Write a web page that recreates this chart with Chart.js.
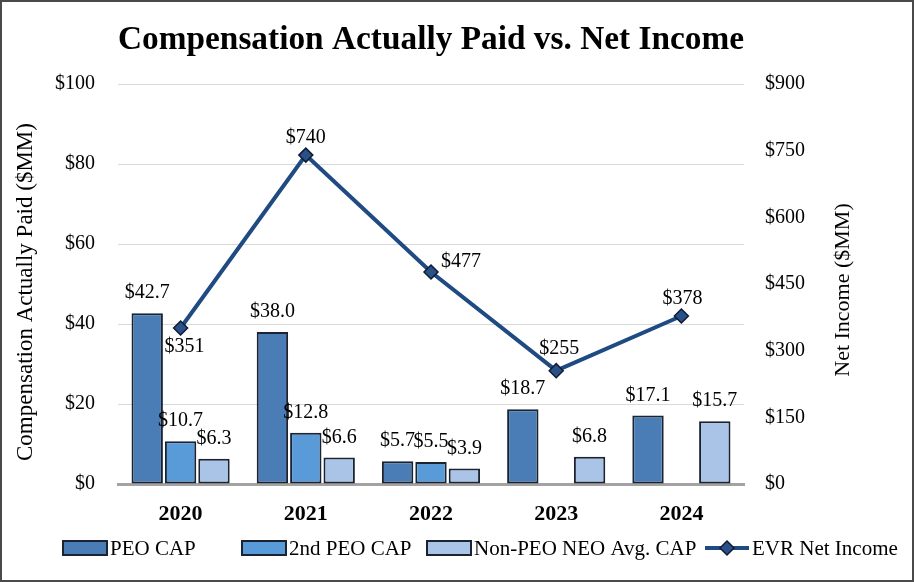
<!DOCTYPE html>
<html><head><meta charset="utf-8">
<script src="https://cdn.jsdelivr.net/npm/chart.js@4.4.1/dist/chart.umd.min.js"></script>
<style>
html,body{margin:0;padding:0;background:#fff;}
#wrap{position:relative;width:914px;height:582px;}
#wrap::after{content:'';position:absolute;left:0;top:0;right:0;bottom:0;border:2px solid #4a4a4a;pointer-events:none;}
canvas{display:block;}
</style></head><body>
<div id="wrap"><canvas id="c" width="914" height="582"></canvas></div>
<script>
const categories = ['2020', '2021', '2022', '2023', '2024'];
const peoCap = [42.7, 38.0, 5.7, 18.7, 17.1];
const secondPeoCap = [10.7, 12.8, 5.5, null, null];
const nonPeoCap = [6.3, 6.6, 3.9, 6.8, 15.7];
const netIncome = [351, 740, 477, 255, 378];
const leftTicks = [0, 20, 40, 60, 80, 100];
const rightTicks = [0, 150, 300, 450, 600, 750, 900];

const FF = "'Liberation Serif', 'Times New Roman', Times, serif";
const BAR_BORDER = '#1b2230';
const LINE_COLOR = '#1f4a82';

const dataLabelPlugin = {
  id: 'dataLabels',
  afterDatasetsDraw(chart, args, opts) {
    const ctx = chart.ctx;
    ctx.save();
    ctx.font = '20px ' + FF;
    ctx.fillStyle = '#000';
    ctx.textAlign = 'center';
    ctx.textBaseline = 'middle';
    chart.data.datasets.forEach((ds, di) => {
      const meta = chart.getDatasetMeta(di);
      meta.data.forEach((el, i) => {
        const v = ds.data[i];
        if (v === null || v === undefined) return;
        if (ds.type === 'line') {
          const off = opts.lineOffsets[i];
          ctx.fillText('$' + Math.round(v), el.x + off[0], el.y + off[1]);
        } else {
          ctx.fillText('$' + v.toFixed(1), el.x, el.y - opts.barGap);
        }
      });
    });
    ctx.restore();
  }
};

const axisTitlePlugin = {
  id: 'axisTitles',
  afterDraw(chart, args, opts) {
    const ctx = chart.ctx;
    ctx.save();
    ctx.fillStyle = '#000';
    ctx.textAlign = 'center';
    ctx.textBaseline = 'middle';
    opts.titles.forEach(t => {
      ctx.save();
      ctx.font = t.size + 'px ' + FF;
      ctx.translate(t.x, t.y);
      ctx.rotate(-Math.PI / 2);
      ctx.fillText(chart.options.scales[t.axis].title.text, 0, 0);
      ctx.restore();
    });
    ctx.restore();
  }
};

const legendPlugin = {
  id: 'customLegend',
  afterDraw(chart, args, opts) {
    const ctx = chart.ctx;
    ctx.save();
    ctx.font = '21px ' + FF;
    ctx.textBaseline = 'middle';
    ctx.textAlign = 'left';
    const cy = opts.y;
    chart.data.datasets.forEach((ds, i) => {
      const x = opts.xs[i];
      const w = opts.boxW;
      if (ds.type === 'line') {
        ctx.strokeStyle = ds.borderColor;
        ctx.lineWidth = 4;
        ctx.beginPath();
        ctx.moveTo(x, cy);
        ctx.lineTo(x + w, cy);
        ctx.stroke();
        const r = 7;
        const mx = x + w / 2;
        ctx.beginPath();
        ctx.moveTo(mx, cy - r);
        ctx.lineTo(mx + r, cy);
        ctx.lineTo(mx, cy + r);
        ctx.lineTo(mx - r, cy);
        ctx.closePath();
        ctx.fillStyle = ds.pointBackgroundColor;
        ctx.fill();
        ctx.strokeStyle = ds.pointBorderColor;
        ctx.lineWidth = 1.5;
        ctx.stroke();
      } else {
        ctx.fillStyle = ds.backgroundColor;
        ctx.fillRect(x, cy - opts.boxH / 2, w, opts.boxH);
        ctx.strokeStyle = ds.borderColor;
        ctx.lineWidth = 2;
        ctx.strokeRect(x, cy - opts.boxH / 2, w, opts.boxH);
      }
      ctx.fillStyle = '#000';
      ctx.fillText(ds.label, x + w + 3, cy + 1);
    });
    ctx.restore();
  }
};

const barCommon = {
  type: 'bar',
  yAxisID: 'y',
  borderColor: BAR_BORDER,
  borderWidth: 2,
  borderSkipped: false,
  categoryPercentage: 0.8,
  barPercentage: 0.94,
  order: 1
};

new Chart(document.getElementById('c'), {
  data: {
    labels: categories,
    datasets: [
      Object.assign({}, barCommon, { label: 'PEO CAP', data: peoCap, backgroundColor: '#4a7db6' }),
      Object.assign({}, barCommon, { label: '2nd PEO CAP', data: secondPeoCap, backgroundColor: '#599bd8' }),
      Object.assign({}, barCommon, { label: 'Non-PEO NEO Avg. CAP', data: nonPeoCap, backgroundColor: '#a9c4e7' }),
      {
        type: 'line', label: 'EVR Net Income', data: netIncome, yAxisID: 'y1',
        borderColor: LINE_COLOR, borderWidth: 4, tension: 0,
        pointStyle: 'rectRot', pointRadius: 7, pointHoverRadius: 7,
        pointBackgroundColor: '#2a5089', pointBorderColor: '#0f1b33', pointBorderWidth: 1.5,
        order: 0
      }
    ]
  },
  options: {
    responsive: false,
    animation: false,
    layout: { padding: 0 },
    plugins: {
      legend: { display: false },
      tooltip: { enabled: false },
      title: {
        display: true,
        text: 'Compensation Actually Paid vs. Net Income',
        fullSize: false,
        color: '#000',
        font: { family: FF, size: 34, weight: 'bold' },
        padding: { top: 20, bottom: 23.2 }
      },
      dataLabels: { barGap: 20, lineOffsets: [[4, 19], [0, -17], [30, -10], [3, -22], [1, -17]] },
      axisTitles: { titles: [{ axis: 'y', x: 26, y: 292, size: 23 }, { axis: 'y1', x: 843, y: 290, size: 22 }] },
      customLegend: { xs: [63, 242, 427, 705], y: 548, boxW: 44, boxH: 14 }
    },
    scales: {
      x: {
        type: 'category',
        offset: true,
        grid: { display: false, drawTicks: false },
        border: { display: true, color: '#a3a3a3', width: 3 },
        ticks: { color: '#000', padding: 17, font: { family: FF, size: 22, weight: 'bold' } },
        afterFit(scale) { scale.height = 98; }
      },
      y: {
        position: 'left',
        min: 0, max: 100,
        afterBuildTicks(scale) { scale.ticks = leftTicks.map(v => ({ value: v })); },
        grid: { color: '#d9d9d9', lineWidth: 1, drawTicks: false },
        border: { display: false },
        title: { display: false, text: 'Compensation Actually Paid ($MM)' },
        ticks: { color: '#000', padding: 23, font: { family: FF, size: 20 }, callback: v => '$' + v },
        afterFit(scale) { scale.width = 118; }
      },
      y1: {
        position: 'right',
        min: 0, max: 900,
        afterBuildTicks(scale) { scale.ticks = rightTicks.map(v => ({ value: v })); },
        grid: { display: false, drawTicks: false },
        border: { display: false },
        title: { display: false, text: 'Net Income ($MM)' },
        ticks: { color: '#000', padding: 21, font: { family: FF, size: 20 }, callback: v => '$' + v },
        afterFit(scale) { scale.width = 170; }
      }
    }
  },
  plugins: [dataLabelPlugin, axisTitlePlugin, legendPlugin]
});
</script>
</body></html>
